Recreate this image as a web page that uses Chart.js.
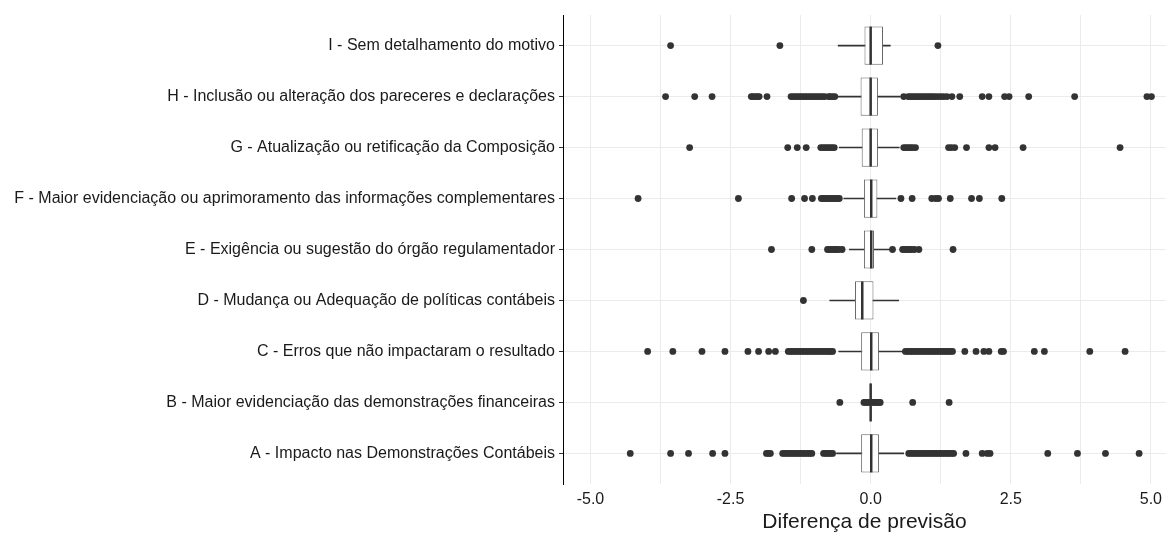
<!DOCTYPE html>
<html>
<head>
<meta charset="utf-8">
<script src="https://cdn.jsdelivr.net/npm/chart.js@4/dist/chart.umd.min.js"></script>
<style>
  html, body { margin: 0; padding: 0; background: #fff; }
  #wrap { width: 1166px; height: 533px; }
</style>
</head>
<body>
<div id="wrap"><canvas id="myChart"></canvas></div>
<script>
// categories, top to bottom
const categories = [
    'I - Sem detalhamento do motivo',
    'H - Inclusão ou alteração dos pareceres e declarações',
    'G - Atualização ou retificação da Composição',
    'F - Maior evidenciação ou aprimoramento das informações complementares',
    'E - Exigência ou sugestão do órgão regulamentador',
    'D - Mudança ou Adequação de políticas contábeis',
    'C - Erros que não impactaram o resultado',
    'B - Maior evidenciação das demonstrações financeiras',
    'A - Impacto nas Demonstrações Contábeis'
];

// box statistics
const q1          = [-0.11, -0.18, -0.16, -0.12, -0.12, -0.28, -0.17, -0.01, -0.17];
const medians     = [ 0.00,  0.00,  0.00,  0.01,  0.01, -0.15,  0.01,  0.00,  0.01];
const q3          = [ 0.22,  0.13,  0.13,  0.12,  0.06,  0.05,  0.15,  0.01,  0.15];
const whiskerLow  = [-0.58, -0.59, -0.56, -0.48, -0.38, -0.73, -0.57, -0.03, -0.61];
const whiskerHigh = [ 0.35,  0.53,  0.51,  0.45,  0.37,  0.50,  0.58,  0.03,  0.59];

// outliers per category
const outliersI = [-3.57, -1.62, 1.20];
const outliersH = [-3.66, -3.14, -2.83, -2.13, -2.10, -2.06, -2.02, -1.99, -1.85,
    -1.42, -1.38, -1.34, -1.30, -1.26, -1.22, -1.18, -1.14, -1.10, -1.06, -1.02, -0.98, -0.94, -0.90, -0.86, -0.82,
    -0.75, -0.72, -0.68, -0.64,
    0.59, 0.67, 0.71, 0.75, 0.79, 0.83, 0.87, 0.91, 0.95, 0.99, 1.03, 1.07, 1.11, 1.15, 1.20, 1.25, 1.30, 1.36,
    1.45, 1.59, 1.99, 2.11, 2.39, 2.47, 2.82, 3.64, 4.93, 5.01];
const outliersG = [-3.23, -1.48, -1.31, -1.15, -0.89, -0.85, -0.81, -0.77, -0.73, -0.69, -0.65,
    0.59, 0.63, 0.67, 0.71, 0.75, 0.80, 1.39, 1.44, 1.50, 1.71, 2.11, 2.22, 2.72, 4.45];
const outliersF = [-4.15, -2.36, -1.41, -1.18, -1.04, -0.88, -0.84, -0.80, -0.76, -0.72, -0.68, -0.64, -0.60, -0.56,
    0.54, 0.74, 1.09, 1.16, 1.21, 1.42, 1.80, 1.94, 2.34];
const outliersE = [-1.77, -1.05, -0.77, -0.73, -0.69, -0.65, -0.61, -0.57, -0.51,
    0.39, 0.57, 0.61, 0.65, 0.69, 0.73, 0.78, 0.86, 1.47];
const outliersD = [-1.20];
const outliersC = [-3.98, -3.53, -3.01, -2.60, -2.19, -2.00, -1.82, -1.70,
    -1.47, -1.43, -1.39, -1.35, -1.31, -1.27, -1.23, -1.19, -1.15, -1.11, -1.07, -1.03, -0.99, -0.95, -0.91,
    -0.87, -0.83, -0.79, -0.75, -0.71, -0.68,
    0.62, 0.66, 0.70, 0.74, 0.78, 0.82, 0.86, 0.90, 0.94, 0.98, 1.02, 1.06, 1.10, 1.14, 1.18, 1.22, 1.26,
    1.30, 1.34, 1.38, 1.42, 1.46, 1.68, 1.88, 2.02, 2.11, 2.33, 2.37, 2.92, 3.10, 3.91, 4.54];
const outliersB = [-0.55, -0.12, -0.09, -0.06, -0.03, 0.03, 0.06, 0.09, 0.12, 0.15, 0.17, 0.75, 1.40];
const outliersA = [-4.29, -3.57, -3.25, -2.82, -2.60, -1.86, -1.82, -1.79,
    -1.57, -1.53, -1.49, -1.45, -1.41, -1.37, -1.33, -1.29, -1.25, -1.21, -1.17, -1.13, -1.09, -1.05,
    -0.84, -0.80, -0.76, -0.72, -0.68,
    0.68, 0.72, 0.76, 0.80, 0.84, 0.88, 0.92, 0.96, 1.00, 1.04, 1.08, 1.12, 1.16, 1.20, 1.24, 1.28, 1.32,
    1.36, 1.40, 1.44, 1.48, 1.70, 1.99, 2.08, 2.13, 3.16, 3.69, 4.19, 4.79];
const outliers = [outliersI, outliersH, outliersG, outliersF, outliersE, outliersD, outliersC, outliersB, outliersA];

const xTicksLabelled = [-5, -2.5, 0, 2.5, 5];

const fontFamily = "'Liberation Sans', Arial, sans-serif";
const ink = '#1a1a1a';

let whiskerData = categories.map((c, i) => ({ x: [whiskerLow[i], whiskerHigh[i]], y: i }));
let boxData = categories.map((c, i) => ({ x: [q1[i], q3[i]], y: i }));
let medianData = categories.map((c, i) => ({ x: medians[i], y: i }));
let outlierData = [];
outliers.forEach((list, i) => list.forEach(v => outlierData.push({ x: v, y: i })));

let ctx = document.getElementById('myChart').getContext('2d');

let myChart = new Chart(ctx, {
    type: 'bar',
    data: {
        datasets: [
            {
                label: 'whiskers',
                data: whiskerData,
                backgroundColor: '#333333',
                barThickness: 1,
                grouped: false,
                order: 4
            },
            {
                label: 'box',
                data: boxData,
                backgroundColor: '#ffffff',
                borderColor: '#666666',
                borderWidth: 1,
                borderSkipped: false,
                barPercentage: 0.75,
                categoryPercentage: 1,
                grouped: false,
                order: 3
            },
            {
                type: 'scatter',
                label: 'median',
                data: medianData,
                pointStyle: 'line',
                pointRadius: 19,
                rotation: 90,
                borderColor: '#333333',
                borderWidth: 2.5,
                order: 2
            },
            {
                type: 'scatter',
                label: 'outliers',
                data: outlierData,
                pointStyle: 'circle',
                pointRadius: 3.4,
                backgroundColor: '#333333',
                borderWidth: 0,
                order: 1
            }
        ]
    },
    options: {
        indexAxis: 'y',
        responsive: true,
        maintainAspectRatio: false,
        animation: false,
        events: [],
        layout: { autoPadding: false, padding: { top: 15, left: 0, right: 0, bottom: 0 } },
        plugins: {
            legend: { display: false },
            tooltip: { enabled: false }
        },
        scales: {
            x: {
                type: 'linear',
                min: -5.49,
                max: 5.27,
                offset: false,
                grid: { color: '#ebebeb', lineWidth: 1, drawTicks: false, offset: false },
                border: { display: false },
                ticks: {
                    stepSize: 1.25,
                    includeBounds: false,
                    autoSkip: false,
                    maxRotation: 0,
                    padding: 6,
                    color: ink,
                    font: { family: fontFamily, size: 16 },
                    callback: v => xTicksLabelled.some(t => Math.abs(t - v) < 1e-9) ? v.toFixed(1) : ''
                },
                title: {
                    display: true,
                    text: 'Diferença de previsão',
                    color: ink,
                    font: { family: fontFamily, size: 21, lineHeight: 1 },
                    padding: { top: 0, bottom: 0 }
                },
                afterFit: s => { s.height = 49; s.paddingLeft = 0; s.paddingRight = 0; }
            },
            y: {
                type: 'linear',
                reverse: true,
                min: -0.6,
                max: 8.6,
                offset: false,
                grid: { color: '#ebebeb', lineWidth: 1, tickColor: '#333333', tickLength: 4, offset: false },
                border: { display: true, color: '#000000', width: 1 },
                ticks: {
                    stepSize: 1,
                    includeBounds: false,
                    autoSkip: false,
                    padding: 4,
                    color: ink,
                    font: { family: fontFamily, size: 16 },
                    callback: v => categories[v] ?? ''
                },
                afterFit: s => { s.width = 563; s.paddingTop = 0; s.paddingBottom = 0; }
            }
        }
    }
});
</script>
</body>
</html>
